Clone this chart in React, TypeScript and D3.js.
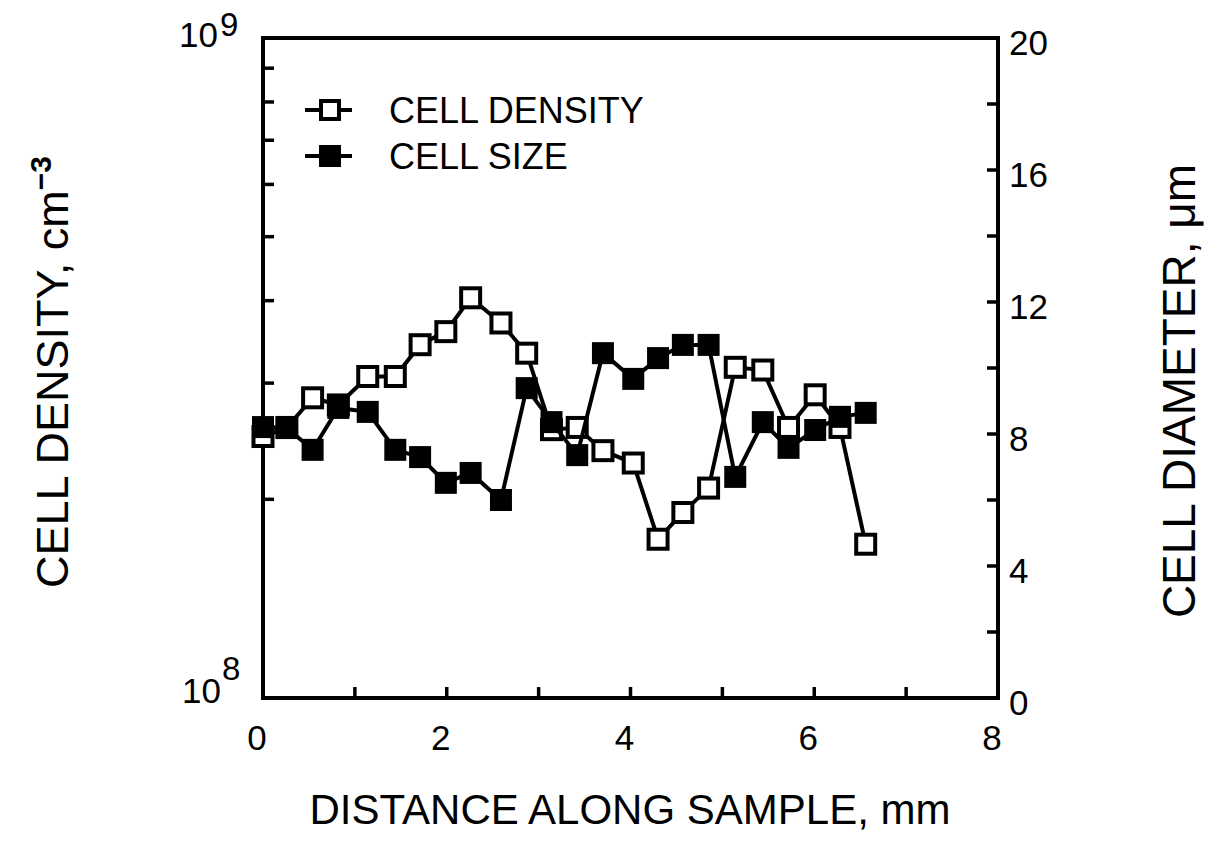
import React from "react";
import * as d3 from "d3";

const distance = [0, 0.26, 0.54, 0.82, 1.14, 1.44, 1.71, 1.99, 2.26, 2.59, 2.87, 3.14, 3.42, 3.7, 4.03, 4.3, 4.57, 4.85, 5.14, 5.44, 5.72, 6.01, 6.28, 6.56];
const cellDensity = [2.49e8, 2.57e8, 2.85e8, 2.78e8, 3.07e8, 3.07e8, 3.43e8, 3.59e8, 4.04e8, 3.7e8, 3.33e8, 2.55e8, 2.57e8, 2.37e8, 2.27e8, 1.74e8, 1.91e8, 2.08e8, 3.17e8, 3.14e8, 2.57e8, 2.88e8, 2.57e8, 1.71e8];
const cellSize = [8.21, 8.18, 7.52, 8.79, 8.67, 7.52, 7.3, 6.52, 6.82, 6.0, 9.39, 8.36, 7.36, 10.45, 9.67, 10.3, 10.7, 10.7, 6.7, 8.36, 7.58, 8.12, 8.52, 8.64];

const xTicks = [0, 2, 4, 6, 8];
const xMinorTicks = [0, 1, 2, 3, 4, 5, 6, 7, 8];
const rightTicks = [0, 4, 8, 12, 16, 20];
const rightMinorTicks = [0, 2, 4, 6, 8, 10, 12, 14, 16, 18, 20];
const leftMinorTicks = [2e8, 3e8, 4e8, 5e8, 6e8, 7e8, 8e8, 9e8];
const legendItems = ["CELL DENSITY", "CELL SIZE"];

const L = 263, R = 998, T = 38, B = 698;
const FONT = "'Liberation Sans', Arial, Helvetica, sans-serif";

export default function App() {
  const x = d3.scaleLinear().domain([0, 8]).range([L, R]);
  const yL = d3.scaleLog().domain([1e8, 1e9]).range([B, T]);
  const yR = d3.scaleLinear().domain([0, 20]).range([B, T]);
  const densLine = d3.line<number>().x((_, i) => x(distance[i])).y((d) => yL(d));
  const sizeLine = d3.line<number>().x((_, i) => x(distance[i])).y((d) => yR(d));
  const tk = 11;
  const sq = 19;
  return (
    <svg width={1205} height={841} style={{ position: "absolute", left: 0, top: 0, background: "#fff" }} fontFamily={FONT}>
      <rect x={0} y={0} width={1205} height={841} fill="#fff" />
      {/* frame */}
      <rect x={L} y={T} width={R - L} height={B - T} fill="none" stroke="#000" strokeWidth={4} />
      {/* bottom ticks */}
      {xMinorTicks.map((t) => (
        <line key={"xb" + t} x1={x(t)} x2={x(t)} y1={B} y2={B - tk} stroke="#000" strokeWidth={3.5} />
      ))}
      {/* left ticks */}
      {leftMinorTicks.map((t) => (
        <line key={"yl" + t} x1={L} x2={L + tk} y1={yL(t)} y2={yL(t)} stroke="#000" strokeWidth={3.5} />
      ))}
      {/* right ticks */}
      {rightMinorTicks.map((t) => (
        <line key={"yr" + t} x1={R} x2={R - tk} y1={yR(t)} y2={yR(t)} stroke="#000" strokeWidth={3.5} />
      ))}
      {/* x labels */}
      {xTicks.map((t) => (
        <text key={"xl" + t} x={x(t) - 6} y={750} fontSize={35} textAnchor="middle">{t}</text>
      ))}
      {/* right labels */}
      {rightTicks.map((t) => (
        <text key={"rl" + t} x={1009} y={yR(t) + 17} fontSize={35} textAnchor="start">{t}</text>
      ))}
      {/* left labels */}
      <text x={218} y={47} fontSize={35} textAnchor="end">10</text>
      <text x={220} y={36} fontSize={33} textAnchor="start">9</text>
      <text x={221} y={703} fontSize={35} textAnchor="end">10</text>
      <text x={222} y={680} fontSize={33} textAnchor="start">8</text>
      {/* axis titles */}
      <text x={630} y={824} fontSize={42} textAnchor="middle">DISTANCE ALONG SAMPLE, mm</text>
      <text transform={`translate(68, 372) rotate(-90)`} fontSize={45} textAnchor="middle">
        CELL DENSITY, cm<tspan dy={-17} fontSize={30} fontWeight="bold">−3</tspan>
      </text>
      <text transform={`translate(1195, 391) rotate(-90)`} fontSize={46} textAnchor="middle">CELL DIAMETER, μm</text>
      {/* density series */}
      <path d={densLine(cellDensity) || ""} fill="none" stroke="#000" strokeWidth={4} />
      {cellDensity.map((d, i) => (
        <rect key={"d" + i} x={x(distance[i]) - sq / 2} y={yL(d) - sq / 2} width={sq} height={sq} fill="#fff" stroke="#000" strokeWidth={4} />
      ))}
      {/* size series */}
      <path d={sizeLine(cellSize) || ""} fill="none" stroke="#000" strokeWidth={4} />
      {cellSize.map((d, i) => (
        <rect key={"s" + i} x={x(distance[i]) - (sq + 3) / 2} y={yR(d) - (sq + 3) / 2} width={sq + 3} height={sq + 3} fill="#000" />
      ))}
      {/* legend */}
      {legendItems.map((name, i) => {
        const cy = 110 + i * 46;
        return (
          <g key={name}>
            <line x1={305} x2={352} y1={cy} y2={cy} stroke="#000" strokeWidth={4} />
            {i === 0 ? (
              <rect x={321} y={cy - 9} width={18} height={18} fill="#fff" stroke="#000" strokeWidth={4} />
            ) : (
              <rect x={319} y={cy - 11} width={22} height={22} fill="#000" />
            )}
            <text x={389} y={cy + 13} fontSize={36}>{name}</text>
          </g>
        );
      })}
    </svg>
  );
}
